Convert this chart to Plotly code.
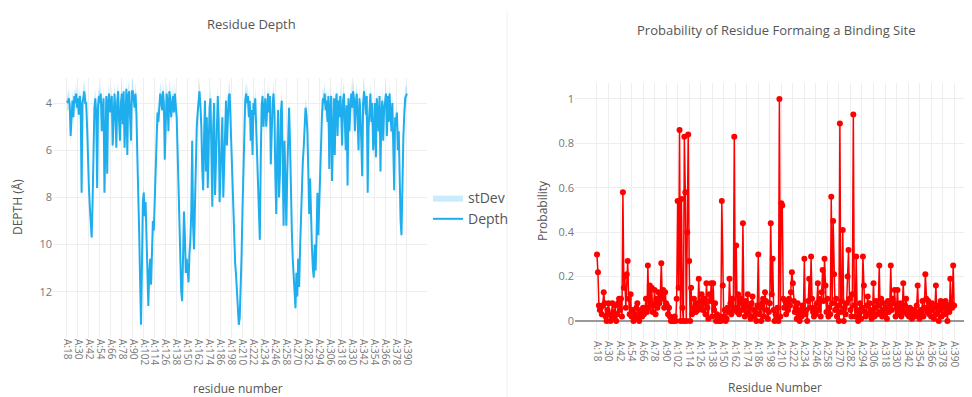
import plotly.graph_objects as go

# ---------------- data ----------------
RESIDUES = list(range(18, 391))
CATEGORIES = [f"A:{r}" for r in RESIDUES]

TICK_LABELS = ["A:18", "A:30", "A:42", "A:54", "A:66", "A:78", "A:90", "A:102",
               "A:114", "A:126", "A:138", "A:150", "A:162", "A:174", "A:186",
               "A:198", "A:210", "A:222", "A:234", "A:246", "A:258", "A:270",
               "A:282", "A:294", "A:306", "A:318", "A:330", "A:342", "A:354",
               "A:366", "A:378", "A:390"]

DEPTH = [
    3.9, 4.0, 3.8, 4.1, 5.4, 4.3, 3.9, 4.6, 3.7, 4.0, 3.6, 4.2,        # 18
    3.8, 4.5, 3.7, 4.1, 7.8, 4.0, 3.6, 3.5, 4.0, 4.0, 5.0, 6.8,        # 30
    7.6, 8.4, 9.1, 9.7, 8.2, 5.6, 4.2, 3.8, 4.5, 7.6, 4.1, 3.7,        # 42
    4.0, 3.6, 5.2, 4.3, 3.8, 7.8, 4.6, 3.7, 7.0, 4.0, 3.6, 4.4,        # 54
    4.0, 3.7, 5.8, 4.2, 3.6, 4.4, 5.9, 3.9, 3.5, 4.8, 5.6, 4.0,        # 66
    3.6, 4.9, 3.5, 5.9, 4.1, 3.4, 6.2, 3.7, 3.5, 4.3, 5.6, 3.5,        # 78
    3.5, 3.8, 4.2, 3.6, 4.5, 6.3, 7.5, 9.5, 11.5, 13.4, 11.0, 8.2,     # 90
    7.8, 8.8, 8.2, 9.8, 11.5, 12.6, 11.2, 10.6, 11.7, 10.3, 9.0, 9.4,  # 102
    7.9, 6.2, 5.0, 4.4, 4.8, 4.0, 3.6, 3.8, 4.3, 3.5, 4.0, 6.4,        # 114
    4.5, 3.6, 3.9, 5.2, 3.5, 3.8, 4.6, 4.0, 3.7, 4.4, 3.6, 4.1,        # 126
    4.6, 6.0, 7.8, 9.6, 11.0, 12.0, 12.4, 10.2, 8.6, 9.6, 11.2, 10.6,  # 138
    11.0, 11.6, 10.4, 9.8, 8.6, 5.6, 9.2, 10.2, 8.4, 6.5, 5.0, 4.4,    # 150
    3.7, 3.5, 4.1, 5.0, 6.8, 7.7, 5.4, 3.9, 6.9, 4.6, 7.6, 5.5,        # 162
    4.2, 3.8, 6.8, 8.4, 5.0, 4.0, 7.9, 6.0, 4.3, 3.7, 4.8, 8.2,        # 174
    7.0, 5.2, 4.6, 8.0, 6.2, 4.5, 3.9, 5.8, 4.2, 3.7, 3.6, 4.8,        # 186
    6.4, 7.8, 9.0, 10.3, 10.8, 11.3, 12.0, 12.7, 13.4, 13.1, 12.0, 10.5,  # 198
    8.6, 6.6, 4.9, 3.9, 3.6, 4.0, 3.7, 4.6, 3.9, 5.6, 4.3, 6.2,        # 210
    4.0, 4.5, 3.8, 5.2, 6.0, 7.6, 8.4, 9.8, 6.4, 4.1, 3.7, 5.0,        # 222
    4.2, 3.8, 5.0, 4.1, 3.6, 4.4, 3.7, 6.6, 5.2, 4.0, 3.6, 4.5,        # 234
    7.2, 8.7, 5.8, 4.3, 8.0, 7.0, 4.4, 3.9, 6.5, 9.2, 5.6, 8.2,        # 246
    9.2, 7.0, 5.5, 4.2, 5.6, 8.0, 9.4, 10.6, 11.5, 12.3, 12.7, 11.2,   # 258
    12.2, 10.6, 11.8, 10.2, 8.8, 7.6, 6.5, 5.9, 4.8, 4.2, 4.5, 5.2,    # 270
    6.8, 8.7, 7.2, 9.5, 10.1, 11.0, 11.4, 10.0, 11.1, 9.8, 7.8, 9.6,   # 282
    8.2, 6.4, 5.8, 4.5, 3.8, 4.0, 3.6, 4.3, 3.9, 4.8, 3.7, 6.8,        # 294
    4.2, 3.7, 7.3, 4.5, 3.8, 6.2, 4.0, 3.6, 5.4, 3.9, 4.6, 3.7,        # 306
    4.4, 5.8, 3.9, 3.6, 4.8, 6.0, 4.1, 7.5, 3.8, 5.2, 4.3, 3.6,        # 318
    4.2, 3.5, 3.8, 5.2, 4.0, 3.6, 4.7, 6.0, 3.8, 4.4, 5.6, 7.1,        # 330
    4.0, 3.5, 3.9, 4.5, 3.7, 7.8, 5.0, 4.2, 3.6, 4.8, 4.0, 6.0,        # 342
    5.5, 4.0, 6.3, 3.8, 4.6, 5.2, 3.7, 6.9, 4.4, 3.9, 5.6, 4.2,        # 354
    4.0, 3.6, 5.4, 3.7, 4.8, 3.6, 4.5, 5.2, 4.0, 6.2, 7.7, 4.6,        # 366
    5.0, 4.4, 6.0, 5.2, 8.0, 9.0, 9.6, 7.0, 5.5, 4.5, 3.8, 3.7,        # 378
    3.6,                                                               # 390
]

DEPTH_SD = [
    0.4, 0.3, 0.5, 0.3, 0.4, 0.3, 0.5, 0.4, 0.3, 0.4, 0.5, 0.3,
    0.5, 0.3, 0.4, 0.4, 0.3, 0.5, 0.4, 0.5, 0.3, 0.4, 0.3, 0.4,
    0.3, 0.4, 0.3, 0.2, 0.3, 0.4, 0.5, 0.4, 0.3, 0.3, 0.5, 0.4,
    0.4, 0.5, 0.3, 0.4, 0.5, 0.3, 0.4, 0.5, 0.3, 0.4, 0.5, 0.3,
    0.3, 0.5, 0.4, 0.3, 0.5, 0.4, 0.3, 0.5, 0.4, 0.3, 0.4, 0.5,
    0.5, 0.3, 0.5, 0.4, 0.3, 0.5, 0.3, 0.4, 0.5, 0.4, 0.3, 0.5,
    0.5, 0.4, 0.3, 0.5, 0.4, 0.3, 0.3, 0.2, 0.2, 0.2, 0.2, 0.3,
    0.3, 0.2, 0.3, 0.2, 0.2, 0.2, 0.2, 0.3, 0.2, 0.2, 0.3, 0.3,
    0.3, 0.3, 0.4, 0.4, 0.3, 0.4, 0.5, 0.4, 0.3, 0.5, 0.4, 0.3,
    0.3, 0.5, 0.4, 0.3, 0.5, 0.4, 0.3, 0.4, 0.5, 0.3, 0.5, 0.4,
    0.4, 0.3, 0.3, 0.2, 0.2, 0.2, 0.2, 0.3, 0.3, 0.2, 0.2, 0.2,
    0.2, 0.2, 0.2, 0.3, 0.3, 0.4, 0.3, 0.2, 0.3, 0.3, 0.4, 0.4,
    0.5, 0.5, 0.4, 0.3, 0.3, 0.3, 0.4, 0.5, 0.3, 0.4, 0.3, 0.4,
    0.4, 0.5, 0.3, 0.3, 0.4, 0.5, 0.3, 0.3, 0.4, 0.5, 0.4, 0.3,
    0.3, 0.4, 0.4, 0.3, 0.3, 0.4, 0.5, 0.3, 0.4, 0.5, 0.5, 0.4,
    0.3, 0.3, 0.2, 0.2, 0.2, 0.2, 0.2, 0.2, 0.2, 0.2, 0.2, 0.2,
    0.3, 0.3, 0.4, 0.5, 0.5, 0.4, 0.5, 0.4, 0.5, 0.3, 0.4, 0.3,
    0.4, 0.4, 0.5, 0.3, 0.3, 0.3, 0.3, 0.2, 0.3, 0.4, 0.5, 0.4,
    0.4, 0.5, 0.4, 0.4, 0.5, 0.4, 0.5, 0.3, 0.4, 0.4, 0.5, 0.4,
    0.3, 0.3, 0.4, 0.4, 0.3, 0.3, 0.4, 0.5, 0.3, 0.2, 0.4, 0.3,
    0.2, 0.3, 0.4, 0.4, 0.4, 0.3, 0.2, 0.2, 0.2, 0.2, 0.2, 0.2,
    0.2, 0.2, 0.2, 0.2, 0.3, 0.3, 0.3, 0.3, 0.4, 0.4, 0.4, 0.4,
    0.3, 0.3, 0.3, 0.2, 0.2, 0.2, 0.2, 0.2, 0.2, 0.2, 0.3, 0.2,
    0.3, 0.3, 0.3, 0.4, 0.5, 0.4, 0.5, 0.4, 0.5, 0.4, 0.5, 0.3,
    0.4, 0.5, 0.3, 0.4, 0.5, 0.3, 0.4, 0.5, 0.3, 0.5, 0.4, 0.5,
    0.4, 0.3, 0.5, 0.5, 0.4, 0.3, 0.4, 0.3, 0.5, 0.3, 0.4, 0.5,
    0.4, 0.5, 0.5, 0.3, 0.4, 0.5, 0.4, 0.3, 0.5, 0.4, 0.3, 0.3,
    0.4, 0.5, 0.4, 0.4, 0.5, 0.3, 0.4, 0.4, 0.5, 0.4, 0.5, 0.3,
    0.3, 0.4, 0.3, 0.5, 0.4, 0.4, 0.5, 0.3, 0.4, 0.5, 0.4, 0.4,
    0.4, 0.5, 0.4, 0.5, 0.4, 0.5, 0.4, 0.4, 0.5, 0.3, 0.3, 0.4,
    0.4, 0.4, 0.3, 0.4, 0.3, 0.3, 0.2, 0.3, 0.4, 0.4, 0.5, 0.4,
    0.4,
]

PROBABILITY = [
    0.30, 0.22, 0.07, 0.05, 0.06, 0.03, 0.07, 0.13, 0.08, 0.02, 0.00, 0.05,  # 18
    0.08, 0.03, 0.00, 0.02, 0.08, 0.04, 0.01, 0.07, 0.00, 0.03, 0.08, 0.10,  # 30
    0.05, 0.10, 0.02, 0.58, 0.15, 0.20, 0.06, 0.21, 0.27, 0.10, 0.03, 0.12,  # 42
    0.02, 0.05, 0.00, 0.03, 0.01, 0.06, 0.08, 0.02, 0.00, 0.04, 0.05, 0.02,  # 54
    0.06, 0.03, 0.05, 0.10, 0.04, 0.25, 0.06, 0.16, 0.08, 0.15, 0.04, 0.07,  # 66
    0.14, 0.03, 0.10, 0.06, 0.13, 0.08, 0.12, 0.26, 0.10, 0.14, 0.06, 0.13,  # 78
    0.08, 0.07, 0.03, 0.06, 0.02, 0.00, 0.01, 0.00, 0.00, 0.02, 0.00, 0.10,  # 90
    0.54, 0.15, 0.86, 0.00, 0.55, 0.06, 0.00, 0.83, 0.58, 0.00, 0.40, 0.84,  # 102
    0.27, 0.00, 0.15, 0.03, 0.05, 0.10, 0.06, 0.04, 0.08, 0.05, 0.19, 0.06,  # 114
    0.09, 0.12, 0.05, 0.08, 0.10, 0.03, 0.17, 0.06, 0.01, 0.12, 0.09, 0.17,  # 126
    0.02, 0.17, 0.05, 0.08, 0.00, 0.03, 0.01, 0.00, 0.02, 0.00, 0.54, 0.16,  # 138
    0.02, 0.05, 0.00, 0.01, 0.06, 0.04, 0.19, 0.08, 0.03, 0.10, 0.05, 0.83,  # 150
    0.06, 0.34, 0.04, 0.12, 0.03, 0.08, 0.10, 0.05, 0.44, 0.07, 0.02, 0.09,  # 162
    0.04, 0.12, 0.03, 0.06, 0.01, 0.08, 0.11, 0.02, 0.05, 0.04, 0.00, 0.07,  # 174
    0.30, 0.03, 0.06, 0.00, 0.08, 0.10, 0.02, 0.13, 0.09, 0.05, 0.01, 0.04,  # 186
    0.08, 0.44, 0.12, 0.28, 0.05, 0.00, 0.03, 0.01, 0.06, 0.00, 1.00, 0.02,  # 198
    0.53, 0.52, 0.10, 0.06, 0.09, 0.03, 0.08, 0.05, 0.10, 0.07, 0.13, 0.22,  # 210
    0.17, 0.09, 0.04, 0.06, 0.01, 0.08, 0.03, 0.00, 0.05, 0.02, 0.07, 0.04,  # 222
    0.28, 0.03, 0.05, 0.00, 0.09, 0.19, 0.06, 0.29, 0.10, 0.04, 0.02, 0.06,  # 234
    0.03, 0.08, 0.17, 0.05, 0.10, 0.02, 0.13, 0.23, 0.09, 0.28, 0.16, 0.04,  # 246
    0.10, 0.02, 0.06, 0.03, 0.56, 0.08, 0.45, 0.21, 0.05, 0.10, 0.02, 0.07,  # 258
    0.00, 0.89, 0.04, 0.09, 0.41, 0.00, 0.06, 0.03, 0.08, 0.20, 0.32, 0.10,  # 270
    0.05, 0.02, 0.12, 0.93, 0.07, 0.02, 0.29, 0.05, 0.00, 0.03, 0.08, 0.01,  # 282
    0.06, 0.29, 0.16, 0.04, 0.02, 0.07, 0.11, 0.03, 0.08, 0.05, 0.01, 0.04,  # 294
    0.17, 0.02, 0.06, 0.09, 0.03, 0.07, 0.25, 0.04, 0.10, 0.02, 0.05, 0.08,  # 306
    0.03, 0.06, 0.01, 0.09, 0.04, 0.07, 0.25, 0.05, 0.10, 0.08, 0.14, 0.02,  # 318
    0.06, 0.14, 0.03, 0.05, 0.08, 0.02, 0.06, 0.17, 0.04, 0.07, 0.10, 0.03,  # 330
    0.05, 0.02, 0.06, 0.04, 0.01, 0.03, 0.05, 0.02, 0.04, 0.07, 0.16, 0.03,  # 342
    0.01, 0.05, 0.03, 0.09, 0.02, 0.06, 0.21, 0.10, 0.04, 0.09, 0.03, 0.07,  # 354
    0.02, 0.08, 0.05, 0.01, 0.06, 0.16, 0.03, 0.07, 0.00, 0.05, 0.09, 0.02,  # 366
    0.06, 0.08, 0.03, 0.09, 0.05, 0.00, 0.07, 0.04, 0.19, 0.08, 0.06, 0.25,  # 378
    0.07,                                                                    # 390
]

DEPTH_TICKS = [4, 6, 8, 10, 12]
PROB_TICKS = [0, 0.2, 0.4, 0.6, 0.8, 1]
PROB_TICK_TEXT = ["0", "0.2", "0.4", "0.6", "0.8", "1"]

# ---------------- figure ----------------
# The page body has an 8px default margin, so the figure is 8px smaller and
# every reference pixel position is shifted by that offset.
OFF = 8
W, H = 972 - OFF, 397 - OFF
BLUE = "#1eaeee"
TICK_FONT = dict(family="Open Sans", size=11, color="#777777")
XTICK_FONT = dict(family="Open Sans", size=10, color="#777777")
GRID = "#eeeeee"

sd_top = [d - s for d, s in zip(DEPTH, DEPTH_SD)]
sd_bot = [d + s for d, s in zip(DEPTH, DEPTH_SD)]

fig = go.Figure()
fig.add_trace(go.Scatter(x=CATEGORIES, y=sd_bot, mode="lines",
                         line=dict(width=0, color="rgba(120,205,245,0.4)"),
                         showlegend=False, hoverinfo="skip",
                         xaxis="x", yaxis="y"))
fig.add_trace(go.Scatter(x=CATEGORIES, y=sd_top, mode="lines", name="stDev",
                         line=dict(width=0, color="rgba(120,205,245,0.4)"),
                         fill="tonexty", fillcolor="rgba(120,205,245,0.4)",
                         xaxis="x", yaxis="y"))
fig.add_trace(go.Scatter(x=CATEGORIES, y=DEPTH, mode="lines", name="Depth",
                         line=dict(color=BLUE, width=2),
                         xaxis="x", yaxis="y"))
fig.add_trace(go.Scatter(x=CATEGORIES, y=PROBABILITY, mode="lines+markers",
                         line=dict(color="#ff0000", width=1.5),
                         marker=dict(color="#ff0000", size=6),
                         showlegend=False, xaxis="x2", yaxis="y2"))

def px_x(p):
    return (p - OFF) / W

def px_y(p):
    return 1 - (p - OFF) / H

fig.update_layout(
    width=W, height=H,
    margin=dict(l=0, r=0, t=0, b=0),
    paper_bgcolor="white", plot_bgcolor="white",
    font=dict(family="Open Sans", color="#555555"),
    showlegend=True,
    legend=dict(x=px_x(428), y=px_y(182), xanchor="left", yanchor="top",
                font=dict(size=14, color="#555555"), tracegroupgap=0,
                traceorder="normal", bgcolor="rgba(0,0,0,0)"),
    xaxis=dict(domain=[px_x(53), px_x(427)], anchor="y", type="category",
               range=[-15.3, 393.9], tickvals=TICK_LABELS, tickangle=90,
               showgrid=True, gridcolor=GRID, zeroline=False, showline=False,
               ticks="", tickfont=XTICK_FONT, automargin=False),
    yaxis=dict(domain=[px_y(338), px_y(78)], anchor="x",
               range=[13.96, 2.94], tickvals=DEPTH_TICKS,
               showgrid=True, gridcolor=GRID, zeroline=False, showline=False,
               ticks="", tickfont=TICK_FONT, automargin=False),
    xaxis2=dict(domain=[px_x(575), 1.0], anchor="y2", type="category",
                range=[-22.9, 390.6], tickvals=TICK_LABELS, tickangle=90,
                showgrid=True, gridcolor=GRID, zeroline=False, showline=False,
                ticks="", tickfont=XTICK_FONT, automargin=False),
    yaxis2=dict(domain=[px_y(340), px_y(83)], anchor="x2",
                range=[-0.0856, 1.072], tickvals=PROB_TICKS,
                ticktext=PROB_TICK_TEXT,
                showgrid=True, gridcolor=GRID, zeroline=True,
                zerolinecolor="#999999", zerolinewidth=2, showline=False,
                ticks="", tickfont=TICK_FONT, automargin=False),
)

ann = [
    dict(text="Residue Depth", x=px_x(251), y=px_y(24), size=13),
    dict(text="Probability of Residue Formaing a Binding Site", x=px_x(776),
         y=px_y(30), size=13),
    dict(text="residue number", x=px_x(238), y=px_y(388), size=12),
    dict(text="Residue Number", x=px_x(775), y=px_y(387), size=12),
]
for a in ann:
    fig.add_annotation(text=a["text"], x=a["x"], y=a["y"], xref="paper",
                       yref="paper", showarrow=False, xanchor="center",
                       yanchor="middle",
                       font=dict(family="Open Sans", size=a["size"],
                                 color="#555555"))
fig.add_annotation(text="DEPTH (Å)", x=px_x(18), y=px_y(207), xref="paper",
                   yref="paper", showarrow=False, textangle=-90,
                   xanchor="center", yanchor="middle",
                   font=dict(family="Open Sans", size=12, color="#555555"))
fig.add_annotation(text="Probability", x=px_x(542), y=px_y(211), xref="paper",
                   yref="paper", showarrow=False, textangle=-90,
                   xanchor="center", yanchor="middle",
                   font=dict(family="Open Sans", size=12, color="#555555"))

# faint panel separator of the right-hand chart
fig.add_shape(type="line", xref="paper", yref="paper",
              x0=px_x(507), x1=px_x(507), y0=0, y1=px_y(10),
              line=dict(color="#f2f2f2", width=1))

fig.write_html("out.html")
